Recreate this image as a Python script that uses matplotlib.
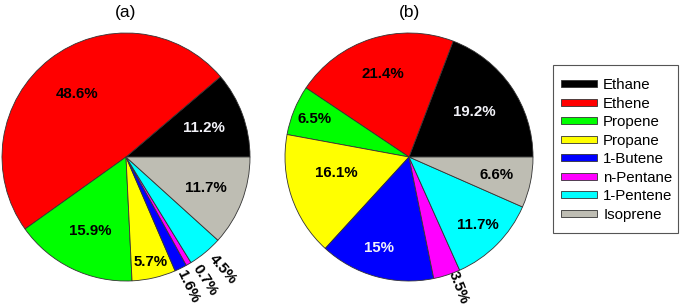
import numpy as np
import matplotlib
matplotlib.use("Agg")
import matplotlib.pyplot as plt
from matplotlib.patches import Patch, Rectangle

plt.rcParams['font.family'] = ['Liberation Sans', 'DejaVu Sans']

# ---- data ----
species = ["Ethane", "Ethene", "Propene", "Propane", "1-Butene", "n-Pentane", "1-Pentene", "Isoprene"]
values_a = [11.2, 48.6, 15.9, 5.7, 1.6, 0.7, 4.5, 11.7]
values_b = [19.2, 21.4, 6.5, 16.1, 15.0, 3.5, 11.7, 6.6]
labels_a = ["11.2%", "48.6%", "15.9%", "5.7%", "1.6%", "0.7%", "4.5%", "11.7%"]
labels_b = ["19.2%", "21.4%", "6.5%", "16.1%", "15%", "3.5%", "11.7%", "6.6%"]
titles = ["(a)", "(b)"]

# ---- styles / layout ----
colors = ["#000000", "#FF0000", "#00FF00", "#FFFF00", "#0000FF", "#FF00FF", "#00FFFF", "#BEBDB3"]
label_r_a = [0.67, 0.64, 0.66, 0.87, 1.16, 1.18, 1.20, 0.69]
label_r_b = [0.64, 0.70, 0.82, 0.60, 0.77, 1.13, 0.78, 0.72]
shift_a = [0, 0, 0, 0, -0.5, 2.5, 1.0, 0]
shift_b = [0, 0, 0, -6, -3, 3, 0, 0]
dark = {"#000000", "#0000FF"}
FS = 10.8

W, H = 685, 306
fig = plt.figure(figsize=(W / 100, H / 100), dpi=100)

def draw(cx, cy, r, values, labels, radii, shifts, title):
    ax = fig.add_axes([(cx - r) / W, (H - cy - r) / H, 2 * r / W, 2 * r / H])
    wedges, _ = ax.pie(values, colors=colors, startangle=0, counterclock=True,
                       wedgeprops=dict(edgecolor="#333333", linewidth=0.6))
    ax.set_xlim(-1, 1)
    ax.set_ylim(-1, 1)
    ax.set_aspect('equal')
    ax.axis('off')
    for w, lab, rr, sh, col in zip(wedges, labels, radii, shifts, colors):
        mid = 0.5 * (w.theta1 + w.theta2) + sh
        t = np.deg2rad(mid)
        x, y = rr * np.cos(t), rr * np.sin(t)
        if rr > 1.0:
            rot = mid - 360 if mid > 180 else mid
            ax.text(x, y, lab, ha='center', va='center', rotation=rot,
                    rotation_mode='anchor', fontsize=FS, fontweight='bold',
                    color='black', clip_on=False)
        else:
            tc = '#F2F2F8' if col in dark else 'black'
            ax.text(x, y, lab, ha='center', va='center', fontsize=FS,
                    fontweight='bold', color=tc)
    fig.text(cx / W, 1 - 12 / H, title, ha='center', va='center', fontsize=12.5)

draw(126, 157, 124, values_a, labels_a, label_r_a, shift_a, titles[0])
draw(409, 157, 124, values_b, labels_b, label_r_b, shift_b, titles[1])

# legend frame (explicit box)
fig.patches.append(Rectangle((553 / W, 1 - 233 / H), 125 / W, 168 / H,
                             transform=fig.transFigure, facecolor='white',
                             edgecolor='#555555', linewidth=0.8, zorder=0))

handles = [Patch(facecolor=c, edgecolor='#333333', linewidth=0.6) for c in colors]
leg = fig.legend(handles, species, loc='upper left',
                 bbox_to_anchor=(553 / W, 1 - 70 / H), bbox_transform=fig.transFigure,
                 fontsize=FS, handlelength=2.35, handleheight=0.35,
                 labelspacing=0.3, handletextpad=0.45, borderpad=0.55,
                 frameon=False, borderaxespad=0)

fig.savefig("out.png", dpi=100)
